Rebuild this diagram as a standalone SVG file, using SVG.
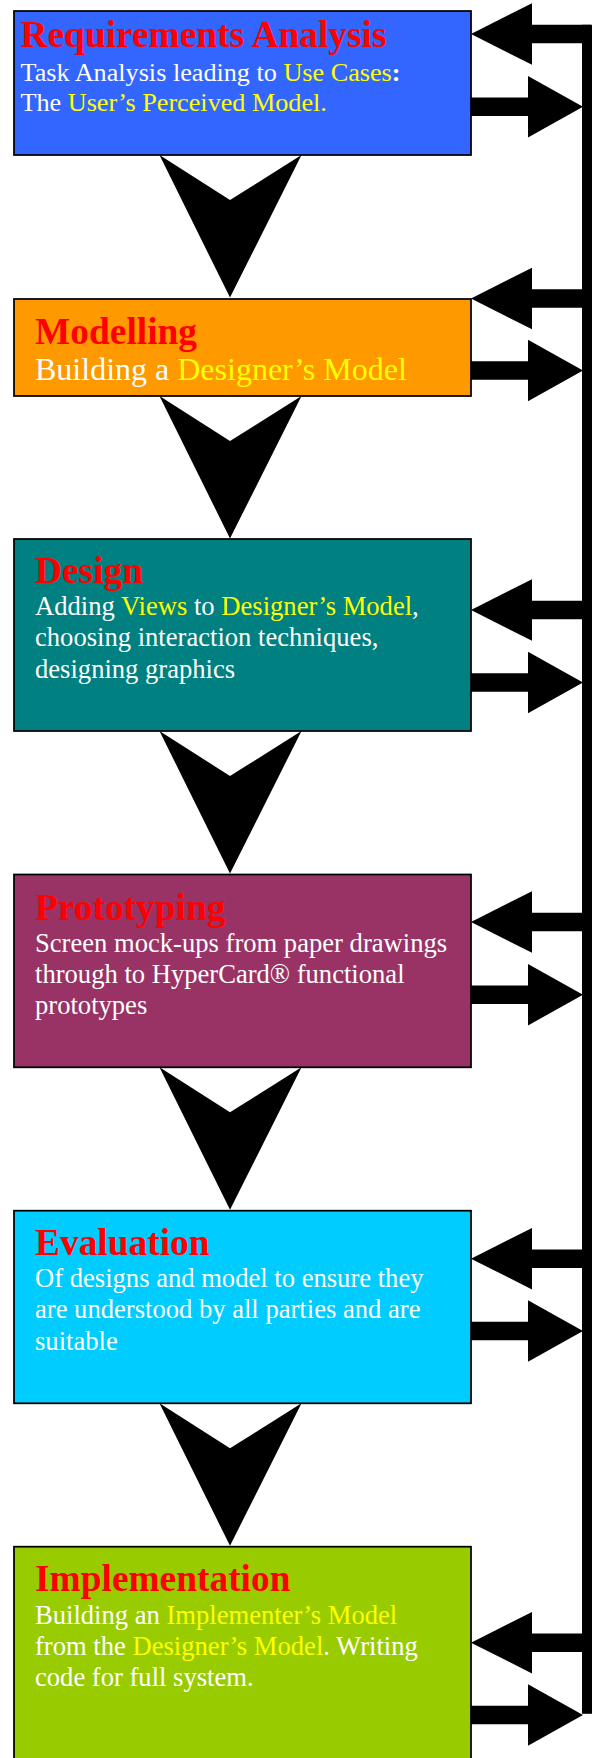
<svg xmlns="http://www.w3.org/2000/svg" width="592" height="1758" viewBox="0 0 592 1758">
  <style>
    .box { stroke: #000; stroke-width: 1.75; }
    .title { font-family: "Liberation Serif", "Times New Roman", serif; font-weight: bold; font-size: 37.4px; fill: #FF0000; }
    .body { font-family: "Liberation Serif", "Times New Roman", serif; font-size: 26.6px; fill: #FFFFFF; }
    .hl { fill: #FFFF00; }
    .arrow { fill: #000; }
  </style>
  <defs>
    <!-- downward chevron between stages, origin at its top centre -->
    <polygon id="chevron" points="-70.5,0 0,45 71.5,0 0,142.5"/>
    <!-- arrow from the feedback bar into a box: tip at origin -->
    <polygon id="arrowIn" points="0,0 61,-30.75 61,-9.2 120,-9.2 120,9.2 61,9.2 61,30.75"/>
    <!-- arrow from a box out to the feedback bar: tail at origin -->
    <polygon id="arrowOut" points="0,-9.2 57,-9.2 57,-30.8 112,0 57,30.8 57,9.2 0,9.2"/>
  </defs>

  <!-- Connectors: stage chevrons, feedback bar and side arrows -->
  <g id="connectors" class="arrow">
    <use href="#chevron" x="230" y="155"/>
    <use href="#chevron" x="230" y="396"/>
    <use href="#chevron" x="230" y="731"/>
    <use href="#chevron" x="230" y="1067.3"/>
    <use href="#chevron" x="230" y="1403.3"/>

    <rect x="582" y="24.8" width="10" height="1689"/>

    <use href="#arrowIn" x="471" y="34"/>
    <use href="#arrowIn" x="471" y="298.5"/>
    <use href="#arrowIn" x="471" y="610"/>
    <use href="#arrowIn" x="471" y="922"/>
    <use href="#arrowIn" x="471" y="1258.7"/>
    <use href="#arrowIn" x="471" y="1642.7"/>

    <use href="#arrowOut" x="471" y="106.7"/>
    <use href="#arrowOut" x="471" y="370.5"/>
    <use href="#arrowOut" x="471" y="682.5"/>
    <use href="#arrowOut" x="471" y="994.7"/>
    <use href="#arrowOut" x="471" y="1331"/>
    <use href="#arrowOut" x="471" y="1715"/>
  </g>

  <!-- Stage 1 -->
  <g id="requirements">
    <rect class="box" x="14" y="11" width="457" height="144" fill="#3366FF"/>
    <text class="title" x="20.5" y="46.7">Requirements Analysis</text>
    <text class="body" x="20.5" y="81" style="font-size:26.2px">Task Analysis leading to <tspan class="hl">Use Cases</tspan><tspan font-weight="bold">:</tspan></text>
    <text class="body" x="20.5" y="110.5" style="font-size:26.2px">The <tspan class="hl">User’s Perceived Model.</tspan></text>
  </g>

  <!-- Stage 2 -->
  <g id="modelling">
    <rect class="box" x="14" y="299" width="457" height="97" fill="#FF9900"/>
    <text class="title" x="35" y="343.5">Modelling</text>
    <text class="body" x="35" y="380" style="font-size:32px">Building a <tspan class="hl">Designer’s Model</tspan></text>
  </g>

  <!-- Stage 3 -->
  <g id="design">
    <rect class="box" x="14" y="539" width="457" height="192" fill="#008080"/>
    <text class="title" x="35" y="583.3">Design</text>
    <text class="body" x="35" y="615">Adding <tspan class="hl">Views</tspan> to <tspan class="hl">Designer’s Model</tspan>,</text>
    <text class="body" x="35" y="646.3">choosing interaction techniques,</text>
    <text class="body" x="35" y="677.6">designing graphics</text>
  </g>

  <!-- Stage 4 -->
  <g id="prototyping">
    <rect class="box" x="14" y="874.5" width="457" height="192.8" fill="#993366"/>
    <text class="title" x="35" y="920">Prototyping</text>
    <text class="body" x="35" y="951.7">Screen mock-ups from paper drawings</text>
    <text class="body" x="35" y="983">through to HyperCard® functional</text>
    <text class="body" x="35" y="1014.3">prototypes</text>
  </g>

  <!-- Stage 5 -->
  <g id="evaluation">
    <rect class="box" x="14" y="1210.7" width="457" height="192.6" fill="#00CCFF"/>
    <text class="title" x="35" y="1255">Evaluation</text>
    <text class="body" x="35" y="1287">Of designs and model to ensure they</text>
    <text class="body" x="35" y="1318.3">are understood by all parties and are</text>
    <text class="body" x="35" y="1349.6">suitable</text>
  </g>

  <!-- Stage 6 (runs off the bottom edge) -->
  <g id="implementation">
    <rect class="box" x="14" y="1546.7" width="457" height="240" fill="#99CC00"/>
    <text class="title" x="35" y="1591">Implementation</text>
    <text class="body" x="35" y="1623.5">Building an <tspan class="hl">Implementer’s Model</tspan></text>
    <text class="body" x="35" y="1654.8">from the <tspan class="hl">Designer’s Model</tspan>. Writing</text>
    <text class="body" x="35" y="1686.1">code for full system.</text>
  </g>
</svg>
